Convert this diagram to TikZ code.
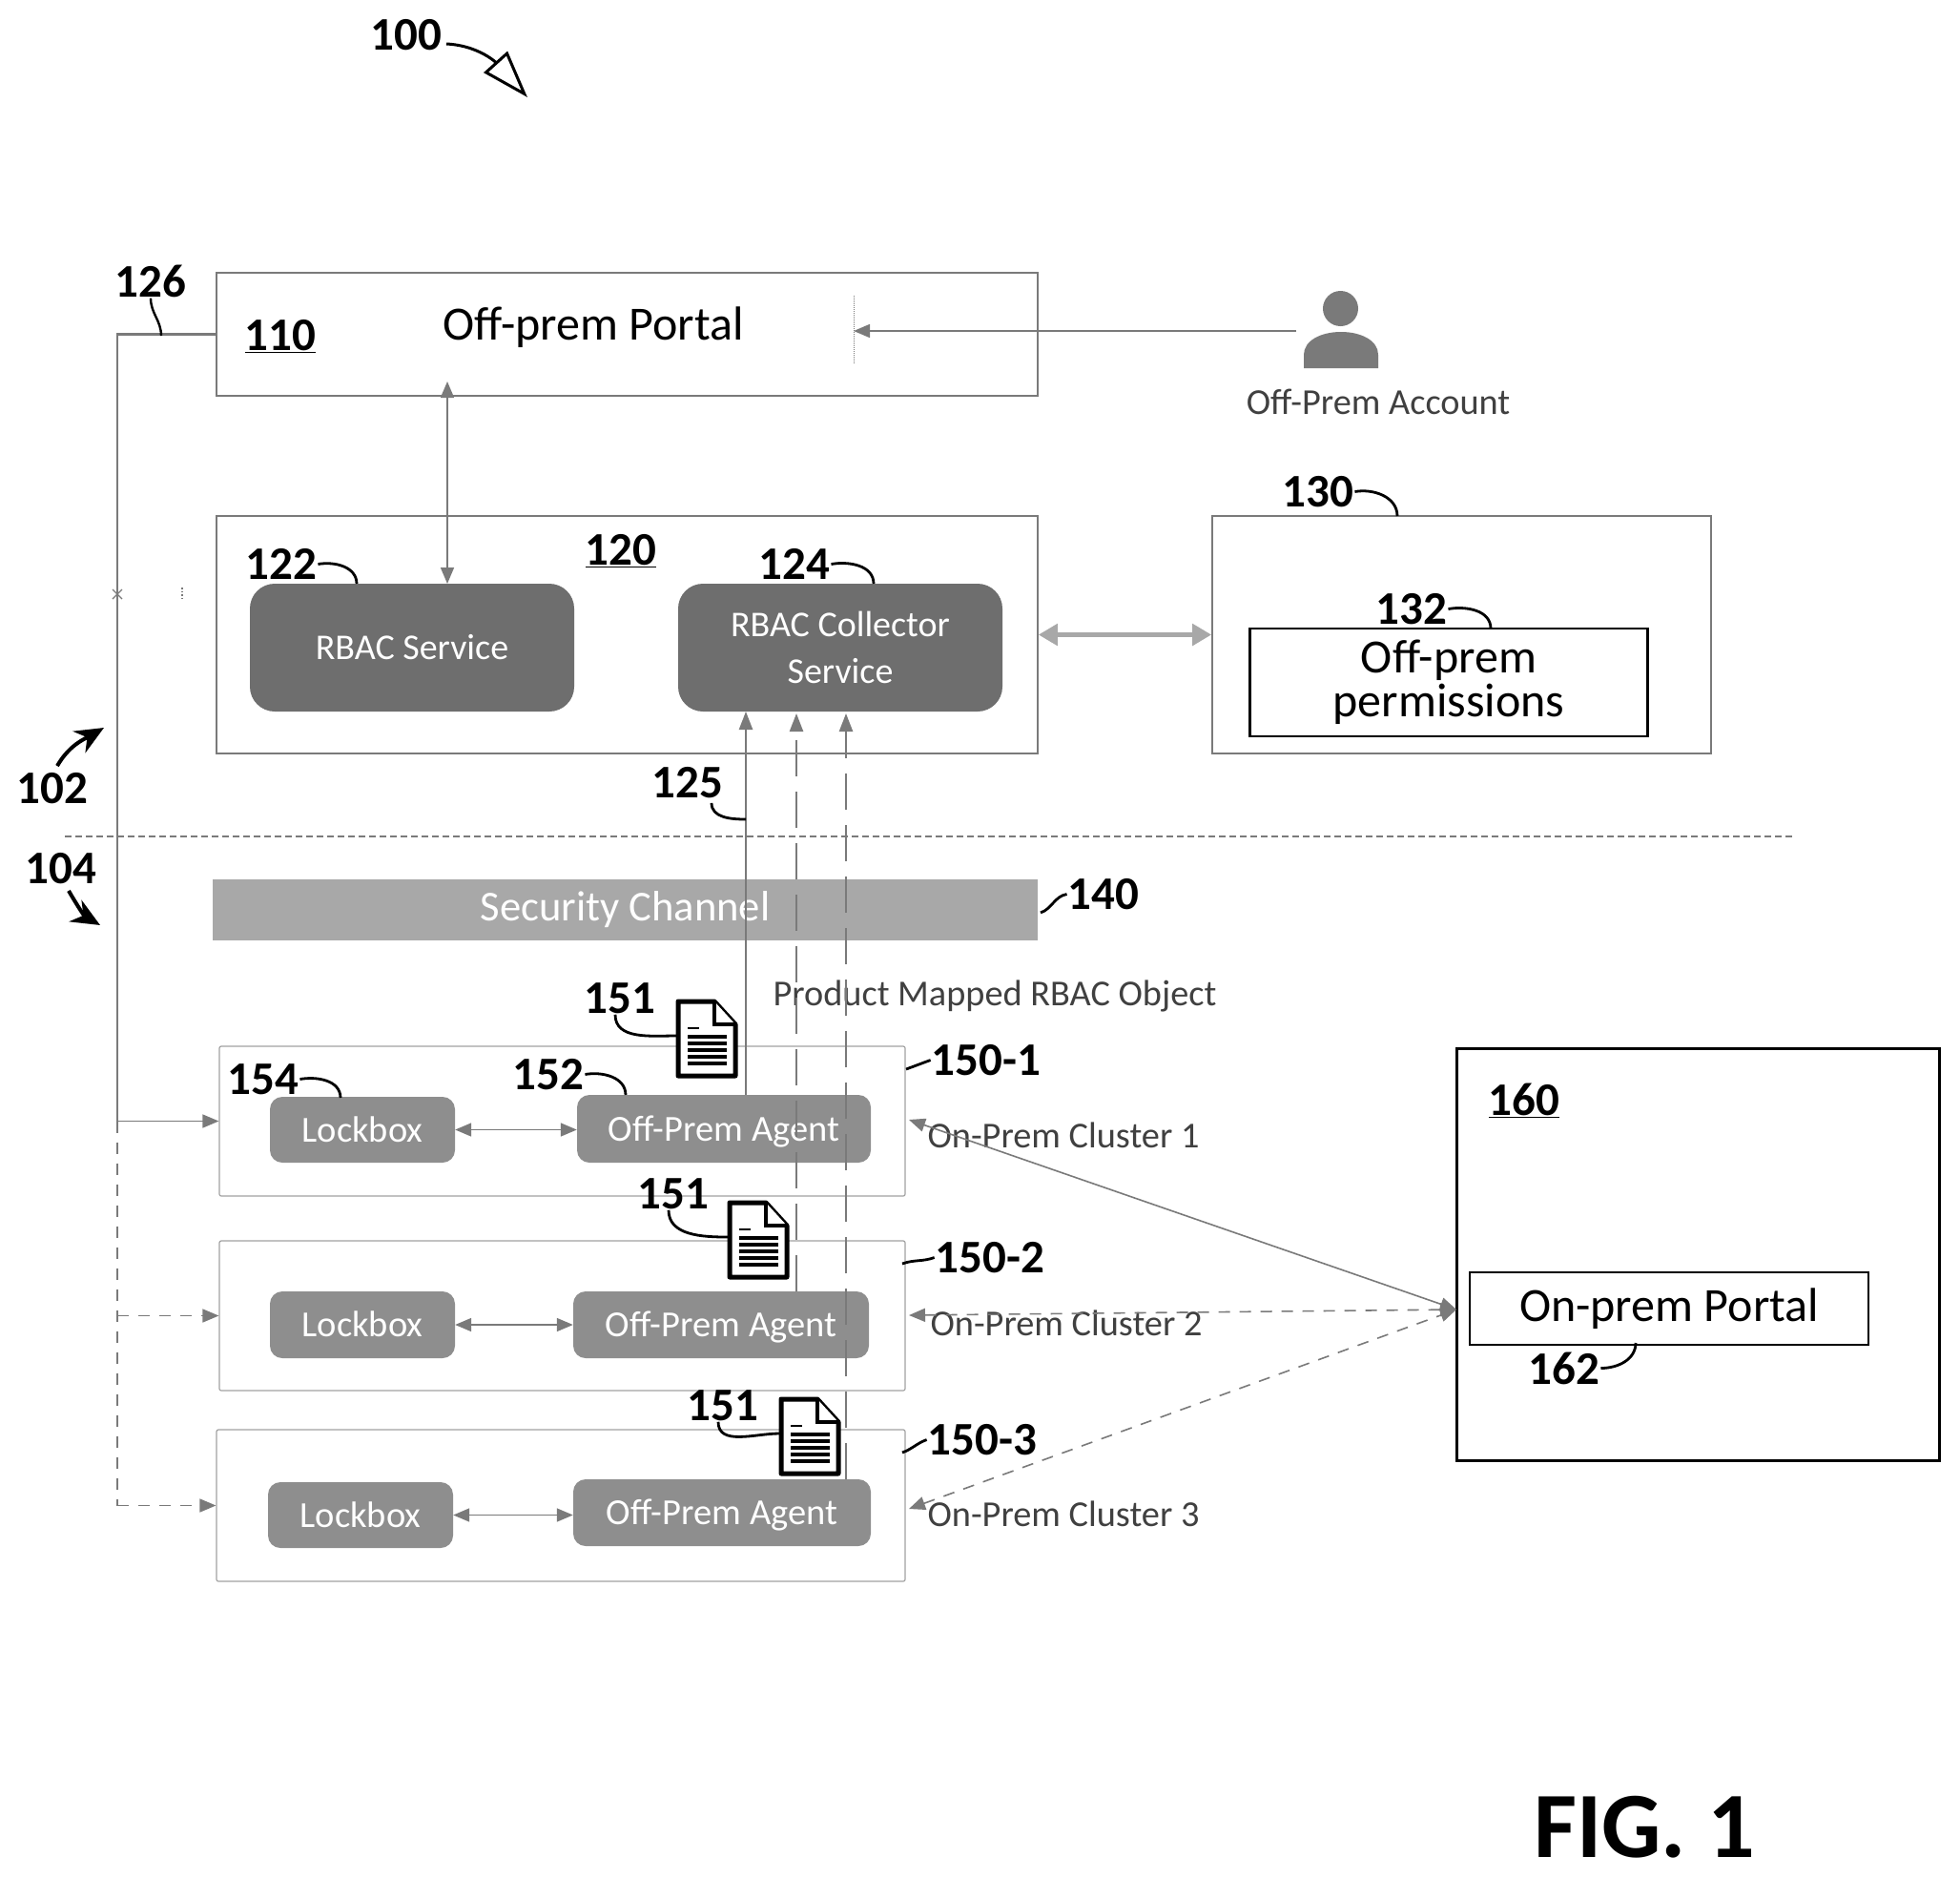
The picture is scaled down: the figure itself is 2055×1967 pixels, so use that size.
\documentclass[tikz,border=0pt]{standalone}
\usepackage{fontspec}
\setmainfont{Carlito}
\usetikzlibrary{arrows.meta}

\definecolor{linegray}{HTML}{7A7A7A}
\definecolor{darkfill}{HTML}{6E6E6E}
\definecolor{midfill}{HTML}{8E8E8E}
\definecolor{bandfill}{HTML}{A8A8A8}

\tikzset{
    outerbox/.style={draw=linegray, line width=1.6pt, inner sep=0pt},
    clusterbox/.style={draw=linegray!70, line width=1.2pt, rounded corners=2pt, inner sep=0pt},
    inkbox/.style={draw=black, line width=2.6pt, inner sep=0pt, align=center, font=\fontsize{50}{46}\selectfont},
    service/.style={fill=darkfill, rounded corners=26pt, minimum width=340pt, minimum height=134pt, inner sep=0pt, align=center, text=white, font=\fontsize{38}{49}\selectfont},
    worker/.style={fill=midfill, rounded corners=13pt, inner sep=0pt, text=white, text height=30pt, text depth=5pt, font=\fontsize{38.5}{40}\selectfont},
    callout/.style={inner sep=1pt, yshift=-0.5pt, font=\fontsize{49}{50}\selectfont\bfseries},
    caption/.style={inner sep=0pt, text=black!75, font=\fontsize{38.3}{40}\selectfont},
    leader/.style={draw=black, line width=2.8pt},
    link/.style={draw=linegray, line width=1.6pt},
    oneway/.style={link, -{Triangle[length=17pt,width=14pt]}},
    twoway/.style={link, {Triangle[length=17pt,width=14pt]}-{Triangle[length=17pt,width=14pt]}},
    collect/.style={draw=linegray, line width=2.4pt, -{Triangle[length=19pt,width=14pt]}},
    longdash/.style={dash pattern=on 38pt off 16pt},
    shortdash/.style={dash pattern=on 12pt off 10pt},
    docicon/.pic={
        \draw[line width=5pt, fill=white, line join=round] (2,2) -- (40,2) -- (62,26) -- (62,80) -- (2,80) -- cycle;
        \draw[line width=4pt, fill=white] (40,2) -- (40,26) -- (62,26);
        \draw[line width=2.5pt] (12,30) -- (24,30);
        \foreach \row in {39,46,53,60,67} {
            \draw[line width=3.5pt] (12,\row) -- (53,\row);
        }
        \coordinate (-west) at (0,38);
    }
}

\begin{document}
\begin{tikzpicture}[x=1pt, y=-1pt]
    \useasboundingbox (0,0) rectangle (2055,1967);

    % upper boxes
    \node[outerbox, minimum width=861pt, minimum height=129pt] (portal) at (657.5,350.5) {};
    \node[outerbox, minimum width=861pt, minimum height=249pt] (rbacbox) at (657.5,665.5) {};
    \node[outerbox, minimum width=523pt, minimum height=249pt] (permbox) at (1532.5,665.5) {};
    \node[inkbox, minimum width=417pt, minimum height=113pt] (perms) at (1519,715.5) {Off-prem\\permissions};
    \node[service] (rbac) at (432,679) {RBAC Service};
    \node[service] (collector) at (881,679) {RBAC Collector\\Service};
    \node[inner sep=0pt, font=\fontsize{50}{52}\selectfont] (portaltext) at (622,343) {Off-prem Portal};

    % security band
    \node[fill=bandfill, minimum width=865pt, minimum height=64pt, inner sep=0pt, text=white, font=\fontsize{44.6}{46}\selectfont] (channel) at (655.5,954) {Security Channel};

    % clusters
    \node[clusterbox, minimum width=719pt, minimum height=157pt] (cluster1) at (589.5,1175.5) {};
    \node[clusterbox, minimum width=719pt, minimum height=157pt] (cluster2) at (589.5,1379.5) {};
    \node[clusterbox, minimum width=722pt, minimum height=159pt] (cluster3) at (588,1578.5) {};

    \node[worker, minimum width=194pt, minimum height=69pt] (lock1) at (380,1184.5) {Lockbox};
    \node[worker, minimum width=308pt, minimum height=71pt] (agent1) at (759,1183.5) {Off-Prem Agent};
    \node[worker, minimum width=194pt, minimum height=70pt] (lock2) at (380,1389) {Lockbox};
    \node[worker, minimum width=310pt, minimum height=70pt] (agent2) at (756,1389) {Off-Prem Agent};
    \node[worker, minimum width=194pt, minimum height=69pt] (lock3) at (378,1588.5) {Lockbox};
    \node[worker, minimum width=312pt, minimum height=70pt] (agent3) at (757,1586) {Off-Prem Agent};

    \draw[twoway] (lock1.east) -- (agent1.west |- lock1.east);
    \draw[twoway] (lock2.east) -- (agent2.west);
    \draw[twoway] (lock3.east) -- (agent3.west |- lock3.east);

    % on-prem side
    \node[draw=black, line width=3pt, minimum width=506pt, minimum height=432pt, inner sep=0pt] (onprem) at (1780,1315) {};
    \node[inkbox, minimum width=418pt, minimum height=76pt] (onportal) at (1750,1372) {On-prem Portal};

    % captions
    \node[caption] (account) at (1445,421) {Off-Prem Account};
    \node[caption] (mapped) at (1043,1044) {Product Mapped RBAC Object};
    \node[caption] (name1) at (1115,1190) {On-Prem Cluster 1};
    \node[caption] (name2) at (1118,1387) {On-Prem Cluster 2};
    \node[caption] (name3) at (1115,1587) {On-Prem Cluster 3};

    % user
    \fill[linegray] (1405.5,323.5) circle (18.5pt);
    \fill[linegray] (1367,386) -- (1367,372) .. controls (1367,357) and (1385,348) .. (1406,348) .. controls (1427,348) and (1445,357) .. (1445,372) -- (1445,386) -- cycle;
    \coordinate (user) at (1359,347);

    % stray marks
    \coordinate (crossa) at (118,618);
    \coordinate (crossb) at (128,628);
    \coordinate (crossc) at (128,618);
    \coordinate (crossd) at (118,628);
    \coordinate (specka) at (191,616);
    \coordinate (speckb) at (191,630);
    \draw[linegray, line width=1.2pt] (crossa) -- (crossb) (crossc) -- (crossd);
    \draw[linegray, line width=1.6pt, dotted] (specka) -- (speckb);

    % connectors
    \coordinate (portalin) at (895,347);
    \coordinate (ticktop) at (895,310);
    \coordinate (tickbot) at (895,382);
    \draw[linegray, line width=1pt, densely dotted] (ticktop) -- (tickbot);
    \draw[oneway] (user) -- (portalin);

    \coordinate (portalup) at (469,400);
    \coordinate (rbacup) at (469,612);
    \draw[twoway] (portalup) -- (rbacup);

    \draw[draw=bandfill, line width=5pt, {Triangle[length=20pt,width=22pt]}-{Triangle[length=20pt,width=22pt]}] (rbacbox.east) -- (permbox.west);

    \coordinate (trunk1) at (123,1175.5);
    \coordinate (trunk2) at (123,1379.5);
    \coordinate (trunk3) at (123,1578.5);
    \draw[link, line width=2.4pt] (portal.west) -| (trunk1);
    \draw[oneway] (trunk1) -- (cluster1.west);
    \draw[link, line width=2.4pt, shortdash] (trunk1) -- (trunk3);
    \draw[oneway, shortdash] (trunk2) -- (cluster2.west);
    \draw[oneway, shortdash] (trunk3) -- (cluster3.west);

    \coordinate (coll1) at (782,746);
    \coordinate (coll2) at (835,748);
    \coordinate (coll3) at (887,748);
    \coordinate (agentup1) at (782,1148);
    \coordinate (agentup2) at (835,1354);
    \coordinate (agentup3) at (887,1551);
    \draw[collect] (agentup1) -- (coll1);
    \draw[collect, longdash] (agentup2) -- (coll2);
    \draw[collect, longdash] (agentup3) -- (coll3);

    \coordinate (hub) at (1527,1373);
    \coordinate (back1) at (953,1174);
    \coordinate (back2) at (953,1379);
    \coordinate (back3) at (953,1582);
    \draw[twoway] (back1) -- (hub);
    \draw[twoway, shortdash] (back2) -- (hub);
    \draw[twoway, shortdash] (back3) -- (hub);

    \coordinate (sepleft) at (68,877);
    \coordinate (sepright) at (1882,877);
    \draw[linegray, line width=2.6pt, dash pattern=on 7pt off 4pt] (sepleft) -- (sepright);

    % documents
    \pic (doc1) at (709,1048) {docicon};
    \pic (doc2) at (763,1259) {docicon};
    \pic (doc3) at (817,1465) {docicon};

    % reference numbers
    \node[callout] (n100) at (426,36) {100};
    \node[callout] (n126) at (158,294) {126};
    \node[callout] (n110) at (294,352) {\underline{110}};
    \node[callout] (n122) at (295,591) {122};
    \node[callout] (n120) at (651,577) {\underline{120}};
    \node[callout] (n124) at (833,591) {124};
    \node[callout] (n125) at (721,820) {125};
    \node[callout] (n102) at (55,826) {102};
    \node[callout] (n104) at (64,910) {104};
    \node[callout] (n130) at (1382,515) {130};
    \node[callout] (n132) at (1480,638) {132};
    \node[callout] (n140) at (1157,937) {140};
    \node[callout] (n151a) at (650,1046) {151};
    \node[callout] (n151b) at (706,1251) {151};
    \node[callout] (n151c) at (758,1473) {151};
    \node[callout] (n154) at (276,1131) {154};
    \node[callout] (n152) at (575,1126) {152};
    \node[callout] (n1501) at (1034,1111) {150-1};
    \node[callout] (n1502) at (1038,1318) {150-2};
    \node[callout] (n1503) at (1030,1509) {150-3};
    \node[callout] (n160) at (1598,1153) {\underline{160}};
    \node[callout] (n162) at (1640,1434) {162};
    \node[inner sep=0pt, font=\fontsize{98}{100}\selectfont\bfseries] (fig) at (1724,1916) {FIG. 1};

    % leaders
    \coordinate (to122) at (374,612);
    \coordinate (to124) at (916,612);
    \coordinate (to125) at (782,859);
    \coordinate (to130) at (1465,541);
    \coordinate (to132) at (1563,659);
    \coordinate (to140) at (1091,957);
    \coordinate (to154) at (357,1151);
    \coordinate (to152) at (656,1148);
    \coordinate (to1501) at (950,1121);
    \coordinate (to1502) at (946,1325);
    \coordinate (to1503) at (946,1523);
    \coordinate (to162) at (1715,1408);
    \coordinate (to126) at (169,352);
    \draw[leader] (n122.east) to[out=10, in=90] (to122);
    \draw[leader] (n124.east) to[out=10, in=90] (to124);
    \draw[leader] (n125.south) ++(25,4) to[out=-90, in=180] (to125);
    \draw[leader] (n130.east) to[out=10, in=90] (to130);
    \draw[leader] (n132.east) to[out=10, in=90] (to132);
    \draw[leader] (n140.west) to[out=190, in=20] (to140);
    \draw[leader] (n154.east) to[out=10, in=90] (to154);
    \draw[leader] (n152.east) to[out=10, in=90] (to152);
    \draw[leader] (n1501.west) to[out=200, in=20] (to1501);
    \draw[leader] (n1502.west) to[out=200, in=20] (to1502);
    \draw[leader] (n1503.west) to[out=200, in=20] (to1503);
    \draw[leader] (n162.east) to[out=0, in=-90] (to162);
    \draw[leader, line width=2.4pt] (n126.south) to[out=-90, in=90] (to126);
    \draw[leader] (n151a.south) ++(-5,0) to[out=-90, in=180] (doc1-west);
    \draw[leader] (n151b.south) ++(-5,0) to[out=-90, in=180] (doc2-west);
    \draw[leader] (n151c.south) ++(-5,0) to[out=-90, in=180] (doc3-west);

    % region arrows
    \coordinate (tip102) at (109,763);
    \coordinate (tip104) at (105,970);
    \coordinate (tail100) at (468,46);
    \coordinate (tip100) at (553,102);
    \draw[draw=black, line width=4pt, -{Stealth[length=30pt,width=26pt]}] (n102.north) ++(5,-6) to[out=60, in=210] (tip102);
    \draw[draw=black, line width=4pt, -{Stealth[length=30pt,width=26pt]}] (n104.south) ++(8,6) to[out=-60, in=150] (tip104);
    \draw[draw=black, line width=3pt, -{Triangle[open, length=50pt, width=33pt]}] (tail100) to[out=-3, in=132] (tip100);
\end{tikzpicture}
\end{document}
